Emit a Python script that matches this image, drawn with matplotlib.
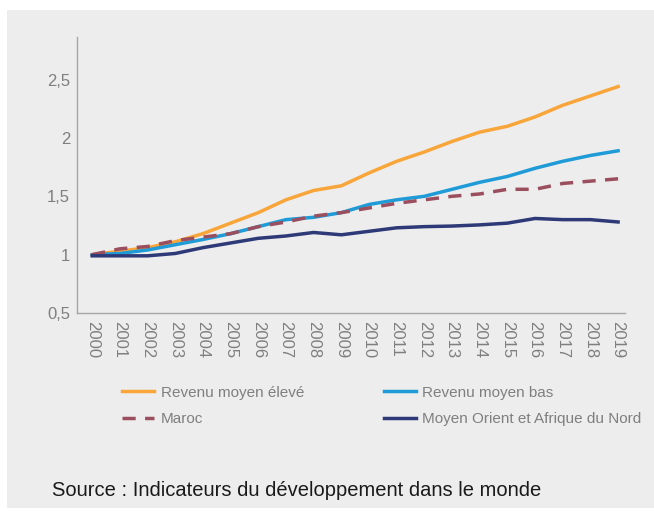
import matplotlib
matplotlib.use("Agg")
import matplotlib.pyplot as plt
from matplotlib.patches import Rectangle

# Données
annees = [str(a) for a in range(2000, 2020)]
revenu_eleve = [1.00, 1.03, 1.06, 1.11, 1.18, 1.27, 1.36, 1.47, 1.55, 1.59,
                1.70, 1.80, 1.88, 1.97, 2.05, 2.10, 2.18, 2.28, 2.36, 2.44]
revenu_bas = [1.00, 1.01, 1.04, 1.085, 1.13, 1.18, 1.24, 1.30, 1.32, 1.36,
              1.43, 1.47, 1.50, 1.56, 1.62, 1.67, 1.74, 1.80, 1.85, 1.89]
maroc = [1.00, 1.05, 1.07, 1.12, 1.15, 1.18, 1.24, 1.28, 1.33, 1.36,
         1.40, 1.44, 1.47, 1.50, 1.52, 1.56, 1.56, 1.61, 1.63, 1.65]
mena = [0.99, 0.99, 0.99, 1.01, 1.06, 1.10, 1.14, 1.16, 1.19, 1.17,
        1.20, 1.23, 1.24, 1.245, 1.255, 1.27, 1.31, 1.30, 1.30, 1.28]
y_ticks = [0.5, 1, 1.5, 2, 2.5]
y_labels = ["0,5", "1", "1,5", "2", "2,5"]

plt.rcParams['font.family'] = ['Liberation Sans', 'DejaVu Sans']

fig = plt.figure(figsize=(6.54, 5.11), dpi=100)
W, H = 654, 511
# fond gris du cadre
fig.patches.append(Rectangle((7 / W, 1 - 508 / H), (654 - 7) / W, (508 - 10) / H,
                             transform=fig.transFigure, facecolor='#ededed',
                             edgecolor='none', zorder=-10))

ax = fig.add_axes([77 / W, 1 - 313 / H, (625 - 77) / W, (313 - 37) / H])
ax.set_facecolor('none')

x = list(range(len(annees)))
l1, = ax.plot(x, revenu_eleve, color='#f8a53a', lw=2.5, label='Revenu moyen élevé')
l2, = ax.plot(x, revenu_bas, color='#1f9bd7', lw=2.5, label='Revenu moyen bas')
l3, = ax.plot(x, maroc, color='#9b4f5e', lw=2.5, ls=(0, (3.8, 2.7)), label='Maroc')
l4, = ax.plot(x, mena, color='#2e3a78', lw=2.5, label='Moyen Orient et Afrique du Nord')

ax.set_xlim(-0.55, 19.25)
ax.set_ylim(0.5, 2.865)
ax.set_yticks(y_ticks)
ax.set_yticklabels(y_labels)
ax.set_xticks(x)
ax.set_xticklabels(annees, rotation=270)
ax.tick_params(axis='both', length=0, colors='#7f7f7f', labelsize=12)
ax.tick_params(axis='x', pad=6)
ax.tick_params(axis='y', pad=5)
for s in ['top', 'right']:
    ax.spines[s].set_visible(False)
for s in ['left', 'bottom']:
    ax.spines[s].set_color('#a6a6a6')
    ax.spines[s].set_linewidth(1)

leg = fig.legend(handles=[l1, l3, l2, l4], ncol=2, loc='upper left',
                 bbox_to_anchor=(108 / W, 1 - 372 / H), frameon=False,
                 fontsize=11, handlelength=2.1, handletextpad=0.45,
                 columnspacing=5.2, labelspacing=0.8, labelcolor='#7f7f7f')

fig.text(52 / W, 1 - 490 / H, "Source : Indicateurs du développement dans le monde",
         fontsize=14.5, color='#1a1a1a', va='center', ha='left')

fig.savefig("out.png", dpi=100)
